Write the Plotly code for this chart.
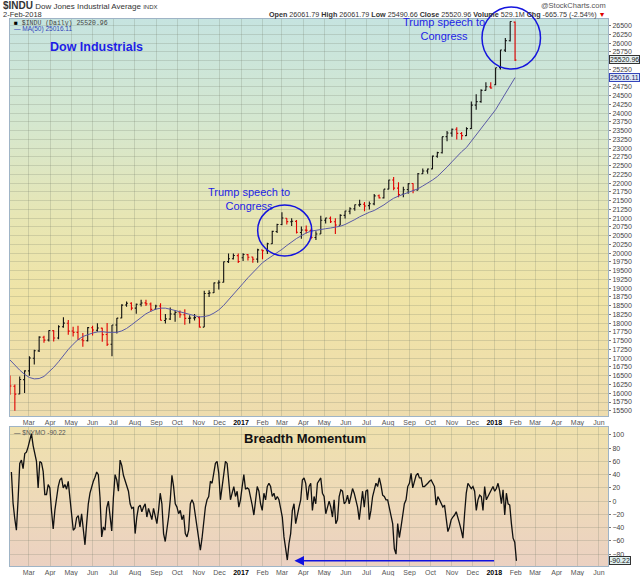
import base64

import pandas as pd
import plotly.graph_objs as go
from plotly.subplots import make_subplots

# weekly bars of $INDU (Feb 2016 -> 2 Feb 2018)
week_open = [
    16450, 16200, 15980, 16390, 16640, 17000, 17210, 17600, 17520, 17790,
    17580, 17900, 18000, 17780, 17740, 17530, 17500, 17870, 17800, 17860,
    17680, 17400, 17950, 18150, 18520, 18570, 18430, 18540, 18580, 18550,
    18400, 18490, 18080, 18120, 18260, 18300, 18240, 18140, 18150, 18160,
    17890, 18850, 18870, 19150, 19170, 19760, 19840, 19930, 19870, 19960,
    19890, 19830, 20090, 20070, 20270, 20620, 20820, 21000, 20900, 20910,
    20590, 20660, 20650, 20450, 20550, 20940, 21000, 20900, 20800, 21080,
    21200, 21270, 21380, 21400, 21360, 21410, 21640, 21580, 21830, 22090,
    21860, 21680, 21820, 21990, 21800, 22270, 22350, 22410, 22770, 22870,
    23330, 23430, 23540, 23420, 23360, 23560, 24230, 24330, 24650, 24750,
    24810, 25300, 25800, 26070, 26600,
]
week_high = [
    16510, 16250, 16480, 16660, 17060, 17240, 17630, 17640, 17800, 17800,
    17940, 18170, 18090, 17900, 17930, 17720, 17890, 17930, 18000, 17870,
    18010, 17950, 18150, 18540, 18620, 18600, 18560, 18670, 18670, 18590,
    18530, 18570, 18260, 18450, 18370, 18360, 18400, 18230, 18260, 18200,
    18930, 18940, 19160, 19230, 19760, 19990, 19990, 19990, 19999, 19980,
    19900, 20130, 20100, 20300, 20640, 20840, 21170, 21000, 21000, 20950,
    20760, 20790, 20700, 20630, 21070, 21010, 21050, 21000, 21110, 21210,
    21310, 21390, 21530, 21460, 21480, 21690, 21680, 21830, 22100, 22180,
    22030, 21900, 22000, 22000, 22290, 22420, 22420, 22790, 22900, 23330,
    23490, 23560, 23600, 23460, 23600, 24330, 24540, 24680, 24880, 24880,
    25300, 25810, 26150, 26620, 26620,
]
week_low = [
    15960, 15500, 15970, 16010, 16500, 16820, 17180, 17440, 17480, 17480,
    17540, 17870, 17670, 17620, 17530, 17330, 17480, 17650, 17760, 17470,
    17350, 17060, 17710, 18140, 18470, 18370, 18270, 18480, 18490, 18330,
    18390, 18080, 17990, 18090, 18040, 18160, 17960, 17990, 18080, 17880,
    17890, 18750, 18860, 18960, 19160, 19720, 19820, 19720, 19780, 19790,
    19730, 19730, 19830, 19980, 20260, 20580, 20800, 20820, 20780, 20560,
    20410, 20560, 20400, 20380, 20550, 20850, 20860, 20550, 20800, 20990,
    21110, 21210, 21330, 21200, 21250, 21370, 21560, 21560, 21830, 21800,
    21600, 21600, 21700, 21710, 21800, 22260, 22270, 22400, 22730, 22850,
    23200, 23330, 23250, 23240, 23350, 23550, 24100, 24300, 24650, 24700,
    24800, 25250, 25750, 26050, 25490,
]
week_close = [
    16205, 15974, 16392, 16640, 17007, 17213, 17602, 17516, 17793, 17577,
    17898, 18004, 17774, 17740, 17535, 17500, 17873, 17807, 17865, 17675,
    17400, 17949, 18147, 18516, 18571, 18432, 18543, 18576, 18552, 18395,
    18492, 18085, 18124, 18262, 18308, 18240, 18138, 18145, 18161, 17888,
    18847, 18868, 19152, 19170, 19757, 19843, 19934, 19763, 19964, 19886,
    19827, 20094, 20071, 20269, 20624, 20822, 21005, 20903, 20914, 20597,
    20663, 20656, 20453, 20548, 20941, 21007, 20897, 20805, 21080, 21206,
    21272, 21384, 21395, 21350, 21414, 21638, 21580, 21830, 22092, 21858,
    21675, 21814, 21988, 21798, 22268, 22350, 22405, 22774, 22872, 23329,
    23434, 23539, 23422, 23358, 23558, 24231, 24329, 24652, 24754, 24719,
    25296, 25803, 26072, 26617, 25521,
]
ma50 = [
    16950, 16800, 16660, 16540, 16450, 16410, 16420, 16480, 16600, 16740,
    16900, 17080, 17250, 17400, 17530, 17620, 17680, 17720, 17750, 17760,
    17740, 17730, 17740, 17780, 17850, 17950, 18060, 18170, 18270, 18340,
    18400, 18430, 18430, 18400, 18360, 18320, 18280, 18240, 18210, 18180,
    18190, 18220, 18290, 18380, 18510, 18660, 18820, 18980, 19140, 19300,
    19450, 19600, 19730, 19830, 19920, 20000, 20110, 20220, 20330, 20420,
    20500, 20580, 20630, 20660, 20680, 20700, 20720, 20740, 20770, 20820,
    20880, 20960, 21040, 21110, 21170, 21220, 21290, 21380, 21480, 21570,
    21630, 21680, 21730, 21780, 21840, 21920, 22000, 22090, 22190, 22320,
    22460, 22610, 22760, 22900, 23020, 23200, 23390, 23580, 23760, 23920,
    24100, 24330, 24560, 24800, 25016,
]

# $NYMO (McClellan oscillator), sampled roughly every other session
nymo = [
    44, -3, -26, -44, 2, 57, 62, 49, 72, 74,
    82, 94, 102, 84, 72, 60, 20, 60, 58, 45,
    10, 10, 25, 20, -15, -42, -14, 8, 22, 32,
    35, 20, 25, 18, 30, 5, -24, -44, -41, -25,
    -22, -39, -19, -49, -66, -34, -4, 12, 22, 30,
    36, 44, 40, 5, -54, -39, -44, -10, 0, -28,
    -45, 5, 40, 32, 15, 62, 54, 39, 32, 22,
    15, -4, -11, -9, -49, -24, -9, -6, -16, -9,
    -4, -24, -11, -19, -28, -11, -21, -34, -14, 12,
    -4, -49, -61, -44, -24, 2, 39, 22, -4, -9,
    -19, -14, -28, -21, -49, -54, -44, -4, 2, -4,
    -21, -39, -59, -74, -56, -28, -9, 2, 7, 30,
    27, 42, 57, 60, 42, 2, 22, 42, 60, 57,
    32, 2, 12, 22, 7, 15, -9, 2, 22, 40,
    18, 20, 18, 7, -6, -21, 2, 22, 15, -4,
    -14, 12, 2, 22, 27, 22, 7, 12, 2, 7,
    2, -9, -24, -54, -74, -89, -64, -49, -14, -4,
    -34, -19, -9, 2, 32, 35, 27, 2, 22, 27,
    -14, 7, -4, 27, 32,
    35, 12, 7, -19, -8, 0, -9, -24, 2, -34,
    -28, 7, 17, 15, -4, -1, 9, -4, 7, 19,
    12, 2, -9, -28, -4, 15, -9, 15, 17, -28,
    -14, 7, 17, 27, 22, 35, 24, 9, 7, 2,
    2, -9, -19, -34, -72, -80, -34, -55, -39, -19,
    -4, 2, 22, 27, 42, 20, 32, 39, 42, 35,
    35, 22, 22, 24, 27, 30, 32, 27, 22, -6,
    7, 2, -4, -9, -6, -28, -46, -39, -28, -24,
    -21, -16, -24, -34, -44, -56, -19, 12, 27, 22,
    19, 22, 15, -14, 2, 9, 7, -14, 22, 2,
    7, 12, 17, 22, 15, 19, 27, 15, -4, 17,
    -21, 12, -4, -6, -34, -56, -62, -90.22,
]

month_labels = [
    "Mar", "Apr", "May", "Jun", "Jul", "Aug", "Sep", "Oct", "Nov", "Dec",
    "2017", "Feb", "Mar", "Apr", "May", "Jun", "Jul", "Aug", "Sep", "Oct", "Nov", "Dec",
    "2018", "Feb", "Mar", "Apr", "May", "Jun",
]

week_dates = pd.date_range("2016-02-03", periods=len(week_close), freq="W-WED")
nymo_dates = pd.date_range("2016-02-05", "2018-02-02", periods=len(nymo))
month_ticks = pd.date_range("2016-03-01", "2018-06-01", freq="MS")
tick_text = [
    f"<span style='color:#000'><b>{m}</b></span>" if m.isdigit() else m for m in month_labels
]

FONT = "Liberation Sans, Arial, sans-serif"
BLUE = "#1e1ee6"
GRID = "rgba(110,120,100,0.22)"
FRAME = "#9fb4c6"

# paper coordinates from pixel positions of the 640x576 picture
MAIN_BOTTOM = (566 - 416) / 547
LOWER_TOP = (566 - 427) / 547


def px_x(p):
    return (p - 10) / 598


def px_y(p):
    return (566 - p) / 547


def gradient(stops):
    parts = "".join(f"<stop offset='{o}' stop-color='{c}'/>" for o, c in stops)
    svg = (
        "<svg xmlns='http://www.w3.org/2000/svg' width='10' height='100' "
        "viewBox='0 0 10 100' preserveAspectRatio='none'>"
        f"<defs><linearGradient id='g' x1='0' y1='0' x2='0' y2='1'>{parts}</linearGradient></defs>"
        "<rect width='10' height='100' fill='url(#g)'/></svg>"
    )
    return "data:image/svg+xml;base64," + base64.b64encode(svg.encode()).decode()


fig = make_subplots(rows=2, cols=1, shared_xaxes=True)

fig.add_trace(
    go.Ohlc(
        x=week_dates,
        open=week_open,
        high=week_high,
        low=week_low,
        close=week_close,
        increasing_line_color="#111111",
        decreasing_line_color="#e00000",
        line_width=1.1,
        tickwidth=0.3,
        hoverinfo="skip",
    ),
    row=1,
    col=1,
)
fig.add_trace(
    go.Scatter(x=week_dates, y=ma50, mode="lines", line=dict(color="#5a5aa6", width=1), hoverinfo="skip"),
    row=1,
    col=1,
)
fig.add_trace(
    go.Scatter(x=nymo_dates, y=nymo, mode="lines", line=dict(color="#111111", width=1.3), hoverinfo="skip"),
    row=2,
    col=1,
)

x_common = dict(
    range=["2016-02-03", "2018-06-14"],
    tickvals=month_ticks,
    ticktext=tick_text,
    tickfont=dict(size=7, color="#555555"),
    showgrid=True,
    gridcolor=GRID,
    showline=True,
    linecolor=FRAME,
    mirror=True,
    ticks="",
    automargin=False,
)
y_common = dict(
    side="right",
    showgrid=True,
    gridcolor=GRID,
    showline=True,
    linecolor=FRAME,
    mirror=True,
    ticks="outside",
    ticklen=2,
    tickcolor="#777777",
    tickfont=dict(size=7, color="#444444"),
    zeroline=False,
    automargin=False,
)
fig.update_xaxes(**x_common)
fig.update_xaxes(showticklabels=True, rangeslider_visible=False, row=1, col=1)
fig.update_yaxes(**y_common)
fig.update_yaxes(range=[15350, 26690], dtick=250, tick0=0, tickformat="d", domain=[MAIN_BOTTOM, 1], row=1, col=1)
fig.update_yaxes(range=[-98, 112], dtick=20, tick0=0, domain=[0, LOWER_TOP], row=2, col=1)

images = [
    dict(
        source=gradient([(0, "#c6e4e0"), (0.25, "#d4e7d0"), (0.5, "#e7e6b4"), (0.7, "#f0e4a6"), (1, "#eedcae")]),
        xref="paper", yref="paper", x=0, y=1, sizex=1, sizey=1 - MAIN_BOTTOM,
        xanchor="left", yanchor="top", sizing="stretch", layer="below",
    ),
    dict(
        source=gradient([(0, "#efe1ad"), (0.5, "#eedab8"), (1, "#ebd1c2")]),
        xref="paper", yref="paper", x=0, y=LOWER_TOP, sizex=1, sizey=LOWER_TOP,
        xanchor="left", yanchor="top", sizing="stretch", layer="below",
    ),
]


def note(text, x, y, size=8, color="#333333", xanchor="left", family=FONT, **kw):
    return dict(
        text=text, x=px_x(x), y=px_y(y), xref="paper", yref="paper",
        xanchor=xanchor, yanchor="middle", showarrow=False,
        font=dict(size=size, color=color, family=family), **kw,
    )


annotations = [
    note("<b><span style='font-size:10px'>$INDU</span></b> Dow Jones Industrial Average <span style='font-size:6px'>INDX</span>", 1, 6),
    note("2-Feb-2018", 1, 15, size=7.5),
    note("@StockCharts.com", 608, 6, size=7.5, color="#555555", xanchor="right"),
    note(
        "<b>Open</b> 26061.79 <b>High</b> 26061.79 <b>Low</b> 25490.66 <b>Close</b> 25520.96 "
        "<b>Volume</b> 529.1M <b>Chg</b> -665.75 (-2.54%) <span style='color:#e00000'>▼</span>",
        608, 15, size=7.2, xanchor="right",
    ),
    note("<span style='color:#000'>■</span> $INDU (Daily) 25520.96", 12, 23, size=6.5, color="#444444",
         family="Liberation Mono, monospace"),
    note("— MA(50) 25016.11", 12, 29.5, size=6.5, color="#3344bb"),
    note("<b>Dow Industrials</b>", 48, 47.5, size=12.5, color=BLUE),
    note("Trump speech to<br>Congress", 206, 199, size=11, color=BLUE),
    note("Trump speech to<br>Congress", 401, 29.5, size=11, color=BLUE),
    note("— $NYMO -90.22", 12, 432.5, size=6.5, color="#555555"),
    note("<b>Breadth Momentum</b>", 305, 438, size=13, color="#111111", xanchor="center"),
    dict(
        text="25520.96", x=1, y=25521, xref="paper", yref="y", xanchor="left", yanchor="middle",
        xshift=1, showarrow=False, font=dict(size=7, color="#222222", family=FONT),
        bgcolor="#e6f0f2", bordercolor="#333333", borderwidth=1, borderpad=0,
    ),
    dict(
        text="25016.11", x=1, y=25016, xref="paper", yref="y", xanchor="left", yanchor="middle",
        xshift=1, showarrow=False, font=dict(size=7, color="#222266", family=FONT),
        bgcolor="#dde8f6", bordercolor="#3344bb", borderwidth=1, borderpad=0,
    ),
    dict(
        text="-90.22", x=1, y=-90.22, xref="paper", yref="y2", xanchor="left", yanchor="middle",
        xshift=1, showarrow=False, font=dict(size=7, color="#222222", family=FONT),
        bgcolor="#dff0f0", bordercolor="#333333", borderwidth=1, borderpad=0,
    ),
    # blue arrow pointing back to the March 2017 low
    dict(
        x="2017-03-19", y=-90, ax="2018-01-03", ay=-90, xref="x2", yref="y2", axref="x2", ayref="y2",
        text="", showarrow=True, arrowhead=2, arrowsize=1.2, arrowwidth=1.6, arrowcolor="#1010e0",
    ),
]

shapes = [
    dict(
        type="circle", xref="x", yref="y", x0="2017-01-25", x1="2017-04-13", y0=19920, y1=21380,
        line=dict(color="#1414dd", width=1.5),
    ),
    dict(
        type="circle", xref="paper", yref="paper", x0=px_x(482), x1=px_x(540.5), y0=px_y(69), y1=px_y(7),
        line=dict(color="#1414dd", width=1.5),
    ),
]

fig.update_layout(
    width=640,
    height=576,
    margin=dict(l=10, r=32, t=19, b=10),
    paper_bgcolor="white",
    plot_bgcolor="rgba(0,0,0,0)",
    font=dict(family=FONT, size=8, color="#333333"),
    showlegend=False,
    images=images,
    annotations=annotations,
    shapes=shapes,
)

# the page body has a default 8px margin; drop it so the figure fills the window
fig.write_html(
    "out.html",
    config={"displayModeBar": False},
    post_script="document.body.style.margin='0';",
)
